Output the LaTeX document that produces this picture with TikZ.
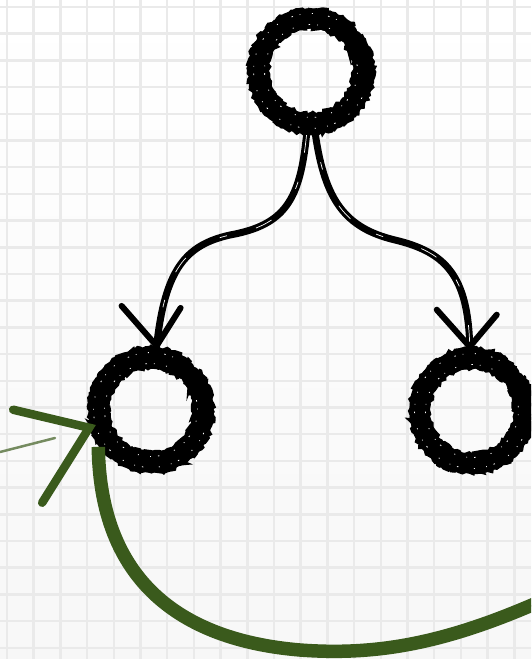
\documentclass[tikz,border=0pt]{standalone}
\usetikzlibrary{decorations.pathmorphing}
\definecolor{inkgreen}{RGB}{58,90,28}
\definecolor{gridgray}{RGB}{234,234,234}
\begin{document}
\begin{tikzpicture}[x=0.02cm,y=-0.02cm,
  gridline/.style={gridgray,line width=0.05cm},
  circlenode/.style={circle,minimum size=2.56cm,inner sep=0pt,draw=none},
  ringcore/.style={line width=0.40cm,line cap=round},
  ringedge/.style={line width=0.07cm,decorate,
    decoration={random steps,segment length=0.05cm,amplitude=0.035cm}},
  ringspeck/.style={white,line width=0.016cm,
    dash pattern=on 0.02cm off 0.23cm on 0.015cm off 0.14cm on 0.03cm off 0.31cm},
  shaft/.style={line width=0.14cm,line cap=round},
  shaftsplit/.style={white,line width=0.014cm,
    dash pattern=on 0.35cm off 0.6cm on 0.15cm off 0.8cm},
  barb/.style={line width=0.12cm,line cap=round},
  greenstroke/.style={inkgreen,line width=0.27cm},
  greenedge/.style={inkgreen,line width=0.03cm,decorate,
    decoration={random steps,segment length=0.08cm,amplitude=0.03cm}},
  greenbarb/.style={inkgreen,line width=0.17cm,line cap=round}
]
\useasboundingbox (0,0) rectangle (531,659);
\clip (0,0) rectangle (531,659);

% paper with a square grid
\shade[top color=white,bottom color=gray!6] (0,0) rectangle (531,659);
\foreach \i in {0,...,19}
  \draw[gridline] ({7+26.7*\i},0) -- ({7+26.7*\i},659);
\foreach \i in {0,...,24}
  \draw[gridline] (0,{7+26.7*\i}) -- (531,{7+26.7*\i});

% the three vertices
\node[circlenode] (top)   at (311,71)  {};
\node[circlenode] (left)  at (151,410) {};
\node[circlenode] (right) at (472,411) {};

% brushed rings, each with a small gap at the upper right
\foreach \n/\g in {top/46,left/50,right/44} {
  \begin{scope}[shift={(\n.center)},x=1cm,y=1cm]
    \draw[ringcore] (\g:1.05) arc[start angle=\g,end angle=\g+350,radius=1.05];
    \draw[ringedge] (\g:1.24) arc[start angle=\g,end angle=\g+350,radius=1.24];
    \draw[ringedge] (\g:0.86) arc[start angle=\g,end angle=\g+350,radius=0.86];
    \draw[ringspeck] (\g+20:0.93) arc[start angle=\g+20,end angle=\g+330,radius=0.93];
    \draw[ringspeck,dash phase=0.1cm] (\g+10:1.15) arc[start angle=\g+10,end angle=\g+300,radius=1.15];
  \end{scope}
}

% black arrows from the top vertex down to both lower vertices
\draw[shaft] (top.266) .. controls (300,200) and (285,225) .. (230,235)
  .. controls (185,245) and (165,270) .. (left.85);
\draw[shaftsplit] (top.266) .. controls (300,200) and (285,225) .. (230,235)
  .. controls (185,245) and (165,270) .. (left.85);
\draw[barb] ([shift={(-35,-40)}]left.85) -- (left.85) -- ([shift={(24,-38)}]left.85);

\draw[shaft] (top.274) .. controls (325,200) and (345,228) .. (395,240)
  .. controls (445,252) and (468,275) .. (right.92);
\draw[shaftsplit,dash phase=0.4cm] (top.274) .. controls (325,200) and (345,228) .. (395,240)
  .. controls (445,252) and (468,275) .. (right.92);
\draw[barb] ([shift={(-33,-37)}]right.92) -- (right.92) -- ([shift={(27,-32)}]right.92);

% green loop coming in from the lower right into the left vertex
\coordinate (gstart) at (548,598);
\draw[greenstroke] (gstart) .. controls (450,642) and (380,656) .. (300,650)
  .. controls (180,640) and (100,580) .. (left.215);
\draw[greenedge] (gstart) .. controls (450,642) and (380,656) .. (300,650)
  .. controls (180,640) and (100,580) .. (left.215);
\draw[greenbarb] ([shift={(-76,-18)}]left.196) -- (left.196) -- ([shift={(-47,75)}]left.196);
\draw[inkgreen!70,line width=0.05cm,line cap=round] (0,452) -- (55,438);
\end{tikzpicture}
\end{document}
